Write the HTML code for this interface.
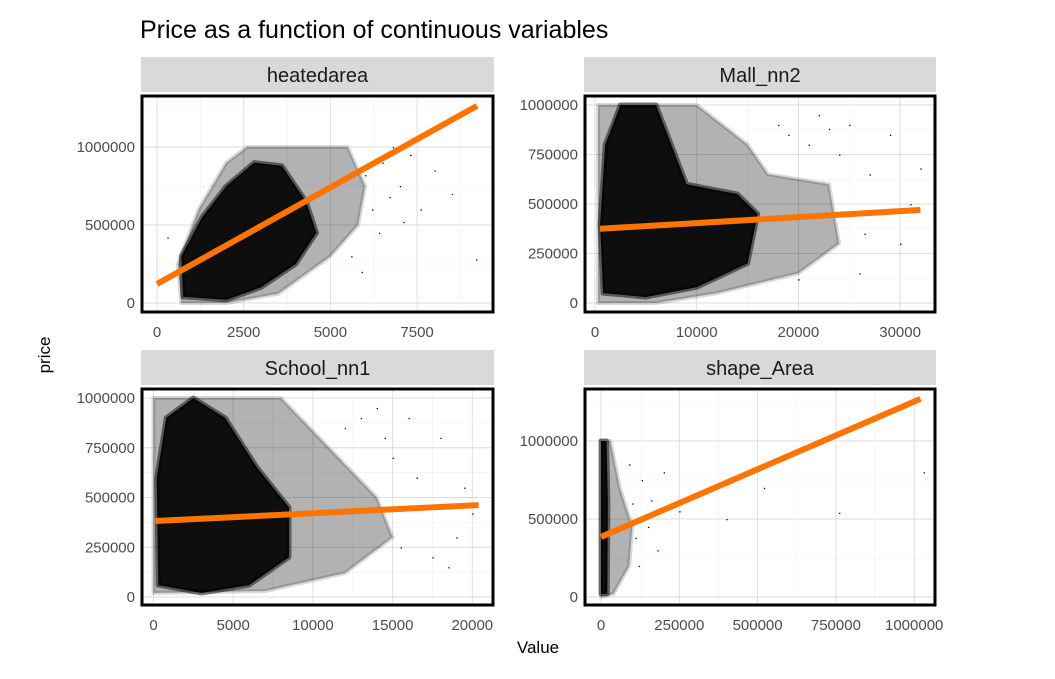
<!DOCTYPE html>
<html><head><meta charset="utf-8"><style>
body{margin:0;background:#fff;}
svg text{font-family:"Liberation Sans",sans-serif;}
</style></head><body>
<svg id="chart" width="1055" height="674" xmlns="http://www.w3.org/2000/svg">
<rect width="1055" height="674" fill="#fff"/>
<text x="140" y="38" font-size="25" fill="#000">Price as a function of continuous variables</text>
<text transform="translate(50,355) rotate(-90)" text-anchor="middle" font-size="17" fill="#000">price</text>
<text x="538" y="653" text-anchor="middle" font-size="17" fill="#000">Value</text>
<g id="panels"></g>
</svg>
<script>
// ---- data ----
const facetNames = ["heatedarea","Mall_nn2","School_nn1","shape_Area"];
const xTicks1 = [0,2500,5000,7500];
const xTicks2 = [0,10000,20000,30000];
const xTicks3 = [0,5000,10000,15000,20000];
const xTicks4 = [0,250000,500000,750000,1000000];
const yTicks1 = [0,500000,1000000];
const yTicks2 = [0,250000,500000,750000,1000000];
const yTicks3 = [0,250000,500000,750000,1000000];
const yTicks4 = [0,500000,1000000];
// fitted line endpoints [x, price]
const fit1 = [[0,122000],[9230,1264000]];
const fit2 = [[500,375000],[32000,470000]];
const fit3 = [[100,382000],[20400,462000]];
const fit4 = [[0,385000],[1020000,1270000]];
// dense cloud hulls [x, price]
const outer1 = [[700,0],[600,250000],[1200,600000],[2000,900000],[2600,1000000],[5500,1000000],[6000,750000],[5800,500000],[5000,300000],[3500,60000],[2000,0]];
const inner1 = [[750,40000],[700,300000],[1300,550000],[2000,750000],[2800,900000],[3600,880000],[4300,650000],[4600,450000],[4000,250000],[3000,100000],[2000,20000]];
const outer2 = [[300,0],[300,1000000],[10000,1000000],[15000,800000],[17000,650000],[23000,600000],[24000,300000],[20000,150000],[12000,50000],[6000,0]];
const inner2 = [[800,50000],[500,400000],[1000,800000],[2500,1000000],[6000,1000000],[7500,800000],[9000,600000],[14000,550000],[16000,450000],[15000,200000],[10000,80000],[5000,30000]];
const outer3 = [[0,20000],[0,1000000],[8000,1000000],[11000,750000],[14000,500000],[15000,300000],[12000,120000],[7000,30000]];
const inner3 = [[300,60000],[200,600000],[800,900000],[2500,1000000],[4500,900000],[6500,650000],[8500,450000],[8500,200000],[6000,60000],[3000,20000]];
const outer4 = [[0,0],[0,1000000],[30000,1000000],[60000,700000],[100000,450000],[90000,200000],[40000,20000]];
const inner4 = [[0,20000],[0,1000000],[18000,1000000],[22000,600000],[20000,20000]];
// sparse outlier points [x, price]
const sparse1 = [[6500,900000],[7000,750000],[6200,600000],[7300,950000],[8000,850000],[9200,280000],[7100,520000],[6800,1000000],[5600,300000],[300,420000],[6000,820000],[7600,600000],[6400,450000],[5900,200000],[8500,700000],[6700,680000]];
const sparse2 = [[25000,900000],[27000,650000],[28000,450000],[30000,300000],[26000,150000],[32000,680000],[22000,950000],[19000,850000],[29000,850000],[24000,750000],[20000,120000],[31000,500000],[21000,800000],[18000,900000],[26500,350000],[23000,880000]];
const sparse3 = [[16000,900000],[18000,800000],[17000,450000],[19000,300000],[18500,150000],[15000,700000],[20000,420000],[14000,950000],[12000,850000],[16500,600000],[17500,200000],[19500,550000],[13000,900000],[15500,250000],[14500,800000]];
const sparse4 = [[100000,600000],[150000,450000],[200000,800000],[250000,550000],[180000,300000],[300000,650000],[400000,500000],[520000,700000],[760000,540000],[1030000,800000],[120000,200000],[90000,850000],[130000,750000],[110000,380000],[160000,620000]];

// ---- layout ----
const panels = [
 {name:facetNames[0],bx:142,by:96,bw:351,bh:216,sy:57,xa:[0,157],xb:[2500,243.7],ya:[0,303],yb:[1000000,147],xt:xTicks1,yt:yTicks1,fit:fit1,outer:outer1,inner:inner1,sparse:sparse1},
 {name:facetNames[1],bx:585,by:96,bw:350,bh:216,sy:57,xa:[0,595],xb:[10000,696.7],ya:[0,303],yb:[1000000,105],xt:xTicks2,yt:yTicks2,fit:fit2,outer:outer2,inner:inner2,sparse:sparse2},
 {name:facetNames[2],bx:142,by:389,bw:351,bh:216,sy:350,xa:[0,153.5],xb:[5000,233.2],ya:[0,597],yb:[1000000,398],xt:xTicks3,yt:yTicks3,fit:fit3,outer:outer3,inner:inner3,sparse:sparse3},
 {name:facetNames[3],bx:585,by:389,bw:350,bh:216,sy:350,xa:[0,601],xb:[250000,679.3],ya:[0,597],yb:[1000000,441],xt:xTicks4,yt:yTicks4,fit:fit4,outer:outer4,inner:inner4,sparse:sparse4}
];
const NS="http://www.w3.org/2000/svg";
const root=document.getElementById('panels');
function mk(tag,attrs,parent){const e=document.createElementNS(NS,tag);for(const k in attrs)e.setAttribute(k,attrs[k]);parent.appendChild(e);return e;}
panels.forEach((p,i)=>{
 const X=v=>p.xa[1]+(v-p.xa[0])*(p.xb[1]-p.xa[1])/(p.xb[0]-p.xa[0]);
 const Y=v=>p.ya[1]+(v-p.ya[0])*(p.yb[1]-p.ya[1])/(p.yb[0]-p.ya[0]);
 const g=mk('g',{},root);
 
 
 const strip=mk('rect',{x:p.bx-1,y:p.sy,width:p.bw+2,height:35,fill:'#d9d9d9'},g);
 
 
 const st=mk('text',{x:p.bx+p.bw/2,y:p.sy+25,'text-anchor':'middle','font-size':'20',fill:'#1a1a1a'},g);
 st.textContent=p.name;
 
 
 const cid='clip'+i;
 const cp=mk('clipPath',{id:cid},g);mk('rect',{x:p.bx,y:p.by,width:p.bw,height:p.bh},cp);
 const inner=mk('g',{'clip-path':'url(#'+cid+')'},g);
 for(let k=0;k<p.xt.length;k++){const d=p.xt[1]-p.xt[0];[p.xt[k]-d/2,p.xt[k]+d/2].forEach(v=>{const x=X(v);mk('line',{x1:x,x2:x,y1:p.by,y2:p.by+p.bh,stroke:'#f2f2f2','stroke-width':0.6},inner);});}
 for(let k=0;k<p.yt.length;k++){const d=p.yt[1]-p.yt[0];[p.yt[k]-d/2,p.yt[k]+d/2].forEach(v=>{const y=Y(v);mk('line',{x1:p.bx,x2:p.bx+p.bw,y1:y,y2:y,stroke:'#f2f2f2','stroke-width':0.6},inner);});}
 p.xt.forEach(v=>{const x=X(v);const l=mk('line',{x1:x,x2:x,y1:p.by,y2:p.by+p.bh,stroke:'#dedede','stroke-width':1},inner);
  
  const t=mk('text',{x:x,y:p.by+p.bh+25,'text-anchor':'middle','font-size':'15',fill:'#4d4d4d'},g);t.textContent=v;
  });
 p.yt.forEach(v=>{const y=Y(v);const l=mk('line',{x1:p.bx,x2:p.bx+p.bw,y1:y,y2:y,stroke:'#dedede','stroke-width':1},inner);
  
  const t=mk('text',{x:p.bx-7,y:y+5,'text-anchor':'end','font-size':'15',fill:'#4d4d4d'},g);t.textContent=v;
  });
 const toPts=a=>a.map(d=>X(d[0]).toFixed(1)+','+Y(d[1]).toFixed(1)).join(' ');
 const o=mk('polygon',{points:toPts(p.outer),fill:'#000','fill-opacity':0.3,stroke:'#000','stroke-opacity':0.15,'stroke-width':4,'stroke-linejoin':'round'},inner);
 
 const c=mk('polygon',{points:toPts(p.inner),fill:'#000','fill-opacity':0.92,stroke:'#000','stroke-opacity':0.5,'stroke-width':5,'stroke-linejoin':'round'},inner);
 
 p.sparse.forEach(d=>{const pt=mk('rect',{x:X(d[0]),y:Y(d[1]),width:1.3,height:1.3,fill:'#000'},inner);
  });
 const fl=mk('line',{x1:X(p.fit[0][0]),y1:Y(p.fit[0][1]),x2:X(p.fit[1][0]),y2:Y(p.fit[1][1]),stroke:'#ff7400','stroke-width':6},inner);
 
 const b=mk('rect',{x:p.bx,y:p.by,width:p.bw,height:p.bh,fill:'none',stroke:'#000','stroke-width':3},g);
 
});
</script>
</body></html>
